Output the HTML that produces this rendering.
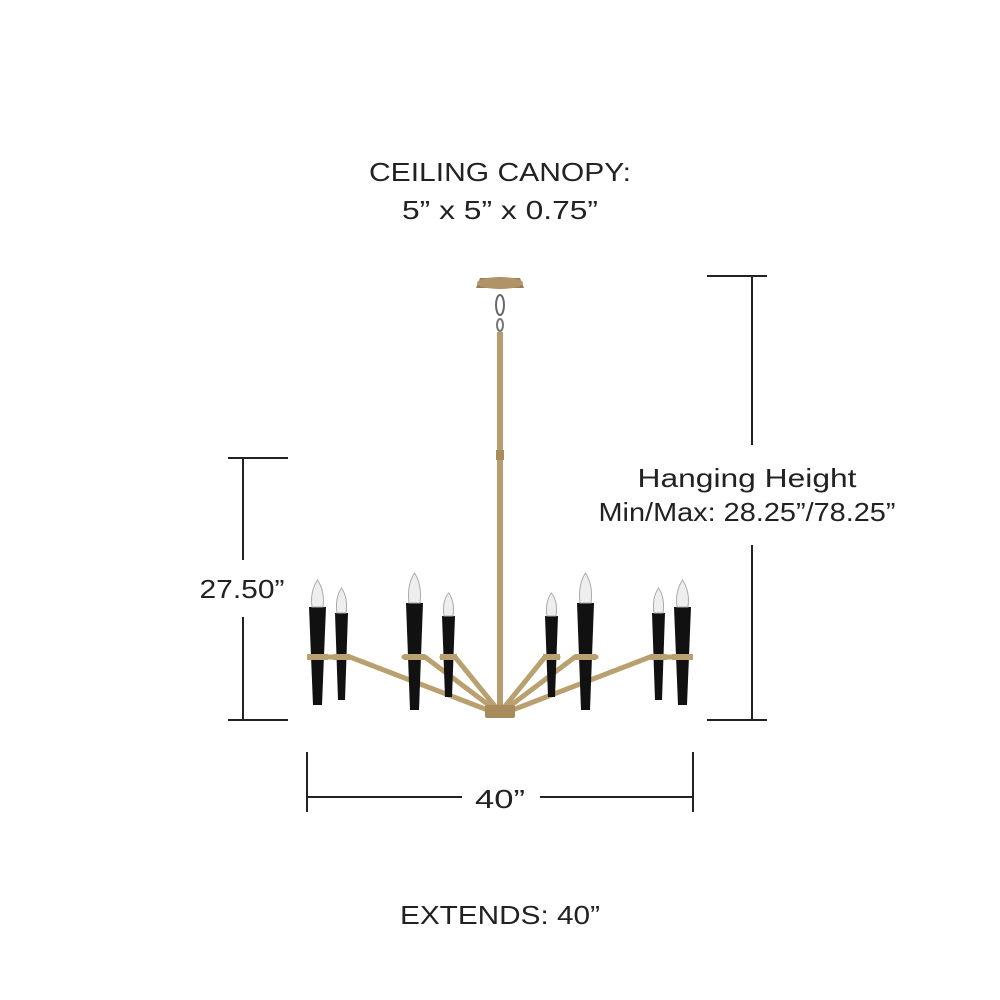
<!DOCTYPE html>
<html><head><style>html,body{margin:0;padding:0;background:#fff}svg{display:block}</style></head><body>
<svg width="1000" height="1000" viewBox="0 0 1000 1000" xmlns="http://www.w3.org/2000/svg">
<g font-family="Liberation Sans, sans-serif" font-size="26" fill="#222" text-anchor="middle" lengthAdjust="spacingAndGlyphs">
<text x="500" y="181" textLength="262" lengthAdjust="spacingAndGlyphs">CEILING CANOPY:</text>
<text x="500" y="219" textLength="196" lengthAdjust="spacingAndGlyphs">5” x 5” x 0.75”</text>
<text x="747" y="487" textLength="219" lengthAdjust="spacingAndGlyphs">Hanging Height</text>
<text x="747" y="521" textLength="297" lengthAdjust="spacingAndGlyphs">Min/Max: 28.25”/78.25”</text>
<text x="242" y="598" textLength="85" lengthAdjust="spacingAndGlyphs">27.50”</text>
<text x="500" y="808" textLength="50" lengthAdjust="spacingAndGlyphs">40”</text>
<text x="500" y="924" textLength="200" lengthAdjust="spacingAndGlyphs">EXTENDS: 40”</text>
</g>
<g stroke="#222" stroke-width="2" fill="none">
<line x1="228" y1="458" x2="288" y2="458"/><line x1="228" y1="720" x2="288" y2="720"/>
<line x1="243" y1="458" x2="243" y2="560"/><line x1="243" y1="617" x2="243" y2="720"/>
<line x1="707" y1="276" x2="767" y2="276"/><line x1="707" y1="720" x2="767" y2="720"/>
<line x1="752" y1="276" x2="752" y2="445"/><line x1="752" y1="545" x2="752" y2="720"/>
<line x1="307" y1="752" x2="307" y2="812"/><line x1="693" y1="752" x2="693" y2="812"/>
<line x1="307" y1="797" x2="462" y2="797"/><line x1="540" y1="797" x2="693" y2="797"/>
</g>
<path d="M476 288 L480 278 L520 278 L524 288 Z" fill="#9a7d52"/>
<ellipse cx="500" cy="283" rx="23" ry="6" fill="#b09468"/>
<ellipse cx="500" cy="305" rx="4" ry="10" fill="none" stroke="#666" stroke-width="2"/>
<ellipse cx="500" cy="325" rx="3" ry="6" fill="none" stroke="#777" stroke-width="2"/>
<rect x="497" y="332" width="6" height="384" fill="#b79c6e"/>
<rect x="496" y="450" width="8" height="10" fill="#a88c5e"/>
<g stroke="#b9a06f" stroke-width="5" fill="none" stroke-linecap="round">
<path d="M498 714 L350 657 L310 657"/>
<path d="M498 712 L425 657 L404 657"/>
<path d="M498 710 L455 657 L442 657"/>
<path d="M502 714 L650 657 L690 657"/>
<path d="M502 712 L575 657 L596 657"/>
<path d="M502 710 L545 657 L558 657"/>
</g>
<rect x="485" y="705" width="30" height="13" rx="2" fill="#a88b5b"/>
<g fill="#111">
<path d="M309 607 L326 607 L322 705 L313 705 Z"/>
<path d="M335 613 L348 613 L345 700 L338 700 Z"/>
<path d="M406 603 L423 603 L419 710 L410 710 Z"/>
<path d="M442 616 L455 616 L452 697 L445 697 Z"/>
<path d="M545 616 L558 616 L555 697 L548 697 Z"/>
<path d="M577 603 L594 603 L590 710 L581 710 Z"/>
<path d="M652 613 L665 613 L662 700 L655 700 Z"/>
<path d="M674 607 L691 607 L687 705 L678 705 Z"/>
</g>
<g fill="#b9a06f">
<rect x="307" y="654" width="21" height="6"/><rect x="333" y="654" width="17" height="6"/>
<rect x="404" y="654" width="21" height="6"/><rect x="440" y="654" width="17" height="6"/>
<rect x="543" y="654" width="17" height="6"/><rect x="575" y="654" width="21" height="6"/>
<rect x="650" y="654" width="17" height="6"/><rect x="672" y="654" width="21" height="6"/>
</g>
<g fill="#eee" stroke="#aaa" stroke-width="1">
<path d="M317.5 580 C311 590 311 600 312 607 L323 607 C324 600 324 590 317.5 580Z"/>
<path d="M341.5 588 C336 596 336 606 337 613 L346 613 C347 606 347 596 341.5 588Z"/>
<path d="M414.5 573 C408 583 408 595 409 603 L420 603 C421 595 421 583 414.5 573Z"/>
<path d="M448.5 593 C443 600 443 609 444 616 L453 616 C454 609 454 600 448.5 593Z"/>
<path d="M551.5 593 C546 600 546 609 547 616 L556 616 C557 609 557 600 551.5 593Z"/>
<path d="M585.5 573 C579 583 579 595 580 603 L591 603 C592 595 592 583 585.5 573Z"/>
<path d="M658.5 588 C653 596 653 606 654 613 L663 613 C664 606 664 596 658.5 588Z"/>
<path d="M682.5 580 C676 590 676 600 677 607 L688 607 C689 600 689 590 682.5 580Z"/>
</g>
</svg>
</body></html>
